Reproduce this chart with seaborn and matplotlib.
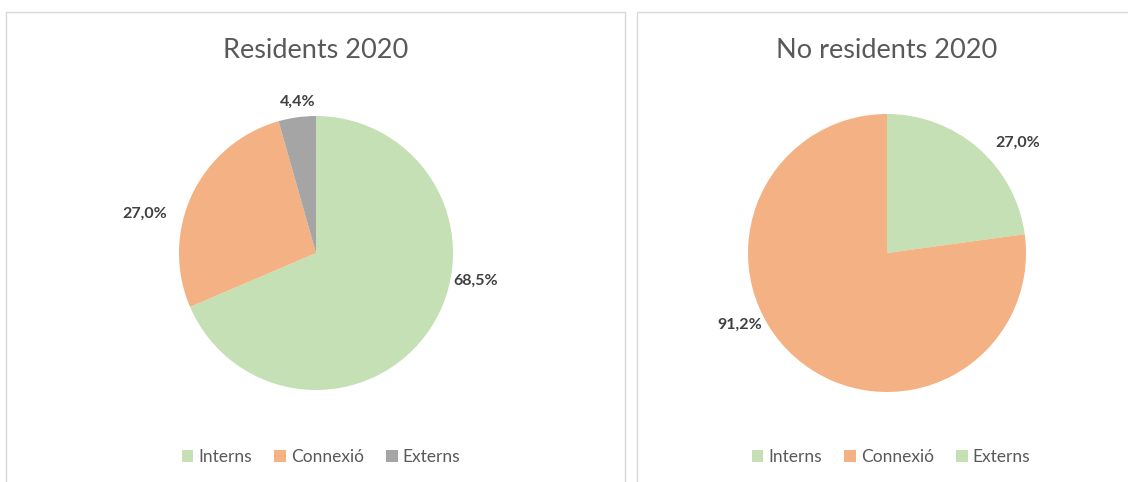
import numpy as np
import matplotlib
matplotlib.use("Agg")
import matplotlib.pyplot as plt
from matplotlib.patches import Rectangle, Patch
import seaborn as sns

# Category names and values for each chart
categories = ["Interns", "Connexió", "Externs"]
residents_values = [68.5, 27.0, 4.4]
no_residents_values = [27.0, 91.2, 0.0]
residents_labels = ["68,5%", "27,0%", "4,4%"]
no_residents_labels = ["27,0%", "91,2%", ""]
titles = ["Residents 2020", "No residents 2020"]

sns.set_theme(style="white")
plt.rcParams["font.family"] = ["Lato", "DejaVu Sans"]

green = "#C5E0B4"
orange = "#F4B183"
grey = "#A5A5A5"
residents_colors = [green, orange, grey]
no_residents_colors = [green, orange, green]

W, H = 1128, 482
fig = plt.figure(figsize=(W / 100, H / 100), dpi=100)
fig.patch.set_facecolor("white")

# chart frames
border = "#D9D9D9"
fig.add_artist(Rectangle((6 / W, -0.05), (625 - 6) / W, 1.05 - 12 / H,
                         transform=fig.transFigure, fill=False,
                         edgecolor=border, linewidth=1))
fig.add_artist(Rectangle((637 / W, -0.05), 0.5, 1.05 - 12 / H,
                         transform=fig.transFigure, fill=False,
                         edgecolor=border, linewidth=1))


def draw_pie(cx, cy, radius_px, values, colors, labels, placement, title, legend_x):
    half = 200
    ax = fig.add_axes([(cx - half) / W, 1 - (cy + half) / H, 2 * half / W, 2 * half / H])
    ax.pie(values, colors=colors, startangle=90, counterclock=False,
           radius=1.0, wedgeprops=dict(linewidth=0))
    lim = half / radius_px
    ax.set_xlim(-lim, lim)
    ax.set_ylim(-lim, lim)
    ax.set_aspect("equal")
    ax.axis("off")
    # data labels, placed by clockwise angle from 12 o'clock and radius
    for lab, (ang, dist) in zip(labels, placement):
        if not lab:
            continue
        a = np.deg2rad(ang)
        ax.text(dist * np.sin(a), dist * np.cos(a), lab, ha="center", va="center",
                fontsize=11.5, fontweight="bold", color="#404040")
    fig.text(cx / W, 1 - 51 / H, title, ha="center", va="center",
             fontsize=19.5, color="#595959")
    handles = [Patch(facecolor=c, edgecolor="none") for c in colors]
    fig.legend(handles, categories, loc="center", ncol=3, frameon=False,
               bbox_to_anchor=(legend_x / W, 1 - 457 / H), fontsize=12.5,
               handlelength=0.65, handleheight=0.65, handletextpad=0.3,
               columnspacing=1.3, labelcolor="#595959")


draw_pie(316, 253, 137, residents_values, residents_colors, residents_labels,
         [(100, 1.18), (283, 1.28), (353, 1.11)], titles[0], 321)
draw_pie(887, 253, 139, no_residents_values, no_residents_colors, no_residents_labels,
         [(50, 1.23), (244, 1.18), (0, 1.0)], titles[1], 891)

fig.savefig("out.png", dpi=100, facecolor="white")
